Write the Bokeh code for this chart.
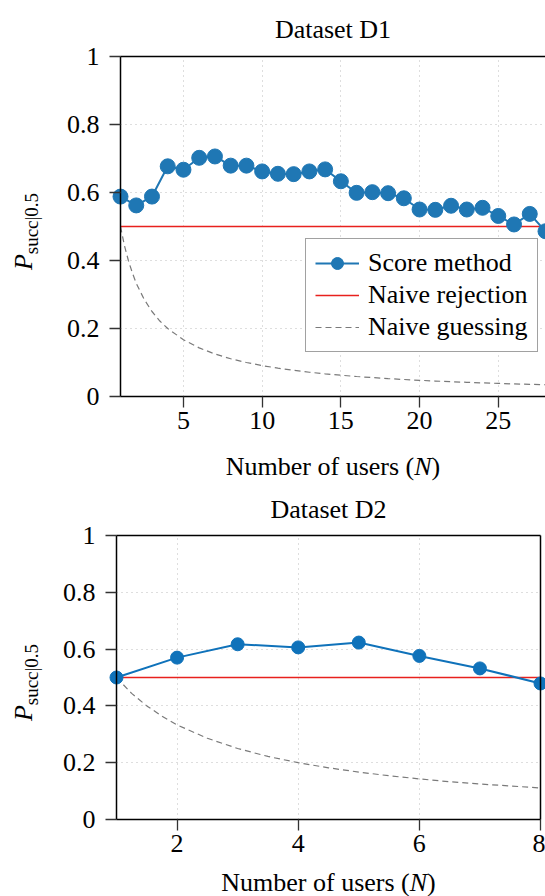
import math
from bokeh.plotting import figure
from bokeh.layouts import column
from bokeh.models import FixedTicker, Label, Legend, LegendItem, Range1d, LinearAxis
from bokeh.embed import file_html
from bokeh.resources import INLINE

FONT = "Liberation Serif"
FPX = 26
FS = "%dpx" % FPX
SUBPX = 19

# ---------------- data ----------------
titles = ["Dataset D1", "Dataset D2"]
y_ticks = [0, 0.2, 0.4, 0.6, 0.8, 1]
y_tick_labels = ["0", "0.2", "0.4", "0.6", "0.8", "1"]

n_d1 = list(range(1, 29))
score_d1 = [0.588, 0.562, 0.588, 0.677, 0.667, 0.702, 0.706, 0.679, 0.679, 0.662,
            0.655, 0.654, 0.662, 0.668, 0.633, 0.599, 0.601, 0.598, 0.583, 0.550,
            0.549, 0.561, 0.550, 0.555, 0.531, 0.506, 0.537, 0.486]
rej_n_d1 = [1, 28]
rej_d1 = [0.5, 0.5]
guess_n_d1 = [1, 1.25, 1.5, 1.75, 2, 2.5, 3, 3.5, 4, 5, 6, 7, 8, 9, 10, 11, 12, 13, 14,
              15, 16, 17, 18, 19, 20, 21, 22, 23, 24, 25, 26, 27, 28]
guess_d1 = [0.5, 0.444, 0.4, 0.364, 0.333, 0.286, 0.25, 0.222, 0.2, 0.167, 0.143, 0.125,
            0.111, 0.1, 0.0909, 0.0833, 0.0769, 0.0714, 0.0667, 0.0625, 0.0588, 0.0556,
            0.0526, 0.05, 0.0476, 0.0455, 0.0435, 0.0417, 0.04, 0.0385, 0.037, 0.0357, 0.0345]
x_ticks_d1 = [5, 10, 15, 20, 25]

n_d2 = [1, 2, 3, 4, 5, 6, 7, 8]
score_d2 = [0.500, 0.570, 0.617, 0.606, 0.623, 0.576, 0.532, 0.479]
rej_n_d2 = [1, 8]
rej_d2 = [0.5, 0.5]
guess_n_d2 = [1, 1.25, 1.5, 1.75, 2, 2.5, 3, 3.5, 4, 4.5, 5, 5.5, 6, 6.5, 7, 7.5, 8]
guess_d2 = [0.5, 0.444, 0.4, 0.364, 0.333, 0.286, 0.25, 0.222, 0.2, 0.182, 0.167,
            0.154, 0.143, 0.133, 0.125, 0.118, 0.111]
x_ticks_d2 = [2, 4, 6, 8]

legend_labels = ["Score method", "Naive rejection", "Naive guessing"]
x_label_parts = ["Number of users (", "N", ")"]
y_label_parts = ["P", "succ|0.5"]


def frame_line_axis(loc, bounds):
    ax = LinearAxis(fixed_location=loc, bounds=bounds, ticker=FixedTicker(ticks=[]),
                    major_tick_line_color=None, minor_tick_line_color=None,
                    major_label_text_font_size="0px", axis_line_color="black",
                    axis_line_width=1.5)
    return ax


def make_panel(title, n, score, rn, rv, gn, gv, xticks, W, H, box_l, box_r, box_t, box_b,
               title_base, xlab_base, blue, msize, right_border, with_legend):
    x0, x1 = n[0], n[-1]
    pxu = (box_r - box_l) / (x1 - x0)
    pyu = float(box_b - box_t)

    def X(px):
        return x0 + (px - box_l) / pxu

    def Y(py):
        return (box_b - py) / pyu

    p = figure(width=W, height=H, x_range=Range1d(X(0), X(W)), y_range=Range1d(Y(H), Y(0)),
               title=None, output_backend="svg", toolbar_location=None,
               min_border=0, min_border_left=0, min_border_right=0,
               min_border_top=0, min_border_bottom=0,
               background_fill_color="white", border_fill_color="white")
    p.outline_line_color = None

    xt = FixedTicker(ticks=xticks)
    yt = FixedTicker(ticks=y_ticks)
    p.xaxis.fixed_location = 0
    p.yaxis.fixed_location = x0
    p.xaxis.bounds = (x0, x1)
    p.yaxis.bounds = (0, 1)
    p.xaxis.ticker = xt
    p.yaxis.ticker = yt
    for ax in (p.xaxis[0], p.yaxis[0]):
        ax.axis_line_color = "black"
        ax.axis_line_width = 1.5
        ax.major_tick_out = 11
        ax.major_tick_in = 0
        ax.major_tick_line_color = "#333333"
        ax.major_tick_line_width = 1.3
        ax.minor_tick_line_color = None
        ax.major_label_text_font = FONT
        ax.major_label_text_font_size = FS
        ax.major_label_text_color = "black"
    p.yaxis.major_label_overrides = {t: l for t, l in zip(y_ticks, y_tick_labels)}
    p.xaxis.major_label_standoff = 4
    p.yaxis.major_label_standoff = 10

    p.xgrid.ticker = xt
    p.ygrid.ticker = yt
    p.xgrid.bounds = (x0, x1)
    p.xgrid.cross_bounds = (0, 1)
    p.ygrid.bounds = (0, 1)
    p.ygrid.cross_bounds = (x0, x1)
    for g in (p.xgrid[0], p.ygrid[0]):
        g.grid_line_color = "#bdbdbd"
        g.grid_line_dash = "1 4"
        g.grid_line_width = 1

    p.add_layout(frame_line_axis(1, (x0, x1)), "above")
    if right_border:
        p.add_layout(frame_line_axis(x1, (0, 1)), "right")

    r_guess = p.line(gn, gv, line_color="#7a7a7a", line_width=1.2, line_dash="6 4")
    r_rej = p.line(rn, rv, line_color="#e8211d", line_width=1.6)
    r_line = p.line(n, score, line_color=blue, line_width=2)
    r_pts = p.scatter(n, score, size=msize, fill_color=blue, line_color=blue)

    # title
    p.add_layout(Label(x=X((box_l + box_r) / 2), y=Y(title_base), text=title,
                       text_align="center", text_baseline="alphabetic",
                       text_font=FONT, text_font_size=FS, text_color="black"))

    # x axis label with italic N
    w_left = 7.248 * FPX
    w_n = 0.667 * FPX
    w_total = w_left + w_n + 0.333 * FPX
    split = (box_l + box_r) / 2 - w_total / 2 + w_left
    common = dict(text_font=FONT, text_font_size=FS, text_color="black",
                  text_baseline="alphabetic", y=Y(xlab_base))
    p.add_layout(Label(x=X(split), text=x_label_parts[0], text_align="right", **common))
    p.add_layout(Label(x=X(split), text=x_label_parts[1], text_align="left",
                       text_font_style="italic", **common))
    p.add_layout(Label(x=X(split + w_n), text=x_label_parts[2], text_align="left", **common))

    # y axis label P_{succ|0.5}
    pw = 0.611 * FPX
    sw = 3.227 * SUBPX
    junction = (box_t + box_b) / 2 + (pw + sw) / 2 - pw + 5
    p.add_layout(Label(x=X(23), y=Y(junction), text=y_label_parts[0], angle=math.pi / 2,
                       text_font=FONT, text_font_size=FS, text_font_style="italic",
                       text_align="right", text_baseline="alphabetic", text_color="black"))
    p.add_layout(Label(x=X(31), y=Y(junction), text=y_label_parts[1], angle=math.pi / 2,
                       text_font=FONT, text_font_size="%dpx" % SUBPX,
                       text_align="left", text_baseline="alphabetic", text_color="black"))

    if with_legend:
        legend = Legend(items=[
            LegendItem(label=legend_labels[0], renderers=[r_line, r_pts]),
            LegendItem(label=legend_labels[1], renderers=[r_rej]),
            LegendItem(label=legend_labels[2], renderers=[r_guess]),
        ], location=(305, H - 352))
        legend.label_text_font = FONT
        legend.label_text_font_size = FS
        legend.label_text_color = "black"
        legend.glyph_width = 44
        legend.glyph_height = 30
        legend.label_height = 30
        legend.label_standoff = 9
        legend.spacing = 2
        legend.padding = 9
        legend.margin = 0
        legend.border_line_color = "#444444"
        legend.border_line_width = 1.2
        legend.background_fill_alpha = 1.0
        p.add_layout(legend)
    return p


# panel D1: canvas 545x482, plot box x 120..545 (N 1..28), y 56..396
p1 = make_panel(titles[0], n_d1, score_d1, rej_n_d1, rej_d1, guess_n_d1, guess_d1, x_ticks_d1,
                545, 482, 120, 545, 56, 396, 29, 466, "#1f77b4", 15, False, True)
# panel D2: canvas 545x414 (starts at page y=482), plot box x 116..540, y 53..337
p2 = make_panel(titles[1], n_d2, score_d2, rej_n_d2, rej_d2, guess_n_d2, guess_d2, x_ticks_d2,
                545, 414, 116, 540, 53, 337, 27, 400, "#0f72ba", 13, True, False)

layout = column(p1, p2, spacing=0)
open("out.html", "w").write(file_html(layout, INLINE))
